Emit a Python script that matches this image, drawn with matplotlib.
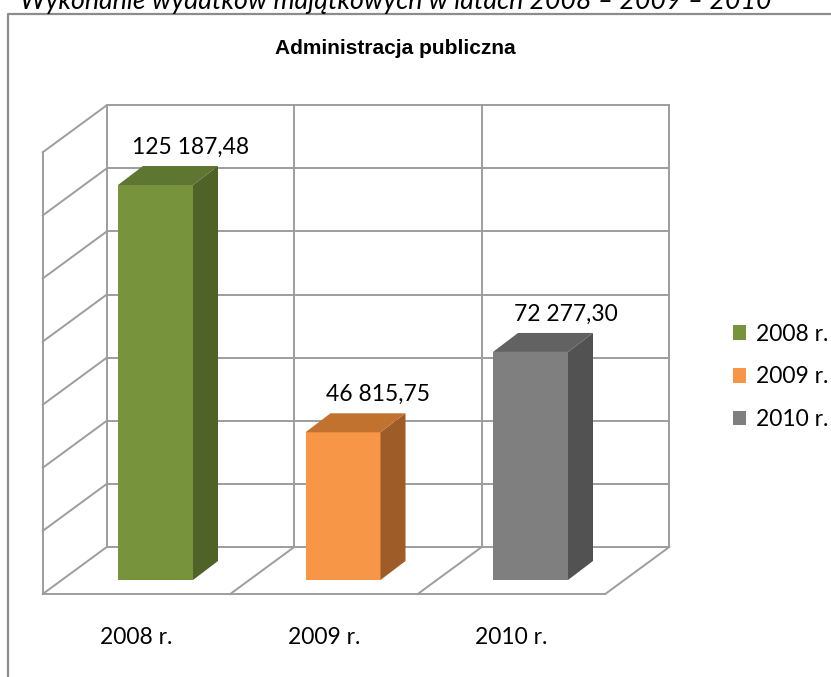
import numpy as np
import matplotlib.pyplot as plt
from matplotlib.patches import Polygon, Patch
from matplotlib.lines import Line2D

# dane
categories = ['2008 r.', '2009 r.', '2010 r.']
values = [125187.48, 46815.75, 72277.30]
value_labels = ['125 187,48', '46 815,75', '72 277,30']
grid_levels = [0, 20000, 40000, 60000, 80000, 100000, 120000, 140000]
chart_title = 'Administracja publiczna'
page_title = 'Wykonanie wydatków majątkowych w latach 2008 – 2009 – 2010'

front_colors = ['#77933C', '#F79646', '#7F7F7F']
side_colors = ['#4F6228', '#9E5C29', '#525252']
top_colors = ['#5F7632', '#C2722F', '#626262']

W, H = 831, 677
fig = plt.figure(figsize=(W / 100, H / 100), dpi=100)
ax = fig.add_axes([0, 0, 1, 1])
ax.axis('off')

# skala: piksele na kategorie i na jednostke wartosci
kx = 187.5
ky = 395 / 125187.48
x0_px, y0_px = 155.5, 580
ax.set_xlim(-x0_px / kx, (W - x0_px) / kx)
ax.set_ylim(-(H - y0_px) / ky, y0_px / ky)


def off(px, py):
    return px / kx, py / ky


back = off(45, 33)
front = off(-19, -14)
depth = off(25, 19)

grid_c = '#9d9d9d'
glw = 1.4
x = np.arange(len(values))
left, right = -0.5, len(values) - 0.5
top = grid_levels[-1]

# tylna sciana
for g in grid_levels:
    ax.plot([left + back[0], right + back[0]], [g + back[1]] * 2, color=grid_c, lw=glw, zorder=1)
for b in np.arange(left, right + 1):
    ax.plot([b + back[0]] * 2, [back[1], top + back[1]], color=grid_c, lw=glw, zorder=1)

# lewa sciana
for g in grid_levels:
    ax.plot([left + front[0], left + back[0]], [g + front[1], g + back[1]], color=grid_c, lw=glw, zorder=1)
ax.plot([left + front[0]] * 2, [front[1], top + front[1]], color=grid_c, lw=glw, zorder=1)

# podloga
ax.plot([left + front[0], right + front[0]], [front[1]] * 2, color=grid_c, lw=glw, zorder=1)
for b in np.arange(left + 1, right + 1):
    ax.plot([b + front[0], b + back[0]], [front[1], back[1]], color=grid_c, lw=glw, zorder=1)

# slupki
bw = 75 / kx
ax.bar(x, values, width=bw, color=front_colors, zorder=3)
for i, v in enumerate(values):
    xr = x[i] + bw / 2
    xl = x[i] - bw / 2
    side = [(xr, 0), (xr + depth[0], depth[1]), (xr + depth[0], v + depth[1]), (xr, v)]
    topf = [(xl, v), (xr, v), (xr + depth[0], v + depth[1]), (xl + depth[0], v + depth[1])]
    ax.add_patch(Polygon(side, closed=True, facecolor=side_colors[i], edgecolor='none', zorder=3))
    ax.add_patch(Polygon(topf, closed=True, facecolor=top_colors[i], edgecolor='none', zorder=3))
    ax.text(x[i] + depth[0] + off(10, 0)[0], v + depth[1] + off(0, 8)[1], value_labels[i],
            ha='center', va='bottom', fontsize=16.5, family='Lato', zorder=4)

# etykiety osi
for i, c in enumerate(categories):
    ax.text(x[i] + front[0], -(637 - y0_px) / ky, c, ha='center', va='center',
            fontsize=16.5, family='Lato')

# tytul wykresu
fig.text(395 / W, 1 - 49 / H, chart_title, ha='center', va='center', fontsize=15,
         fontweight='bold', family=['Liberation Sans Narrow', 'Liberation Sans'])

# tytul strony (przyciety u gory, jak w oryginale)
fig.text(20 / W, 1 - 9.5 / H, page_title, ha='left', va='baseline', fontsize=19.3,
         style='italic', family='Lato')

# legenda
handles = [Patch(facecolor=c, edgecolor='none') for c in front_colors]
ax.legend(handles, categories, loc='center left', bbox_to_anchor=(712 / W, 1 - 377 / H),
          frameon=False, prop={'family': 'Lato', 'size': 16.5}, handlelength=0.6,
          handleheight=0.6, handletextpad=0.4, labelspacing=0.95)

# ramka
fig.add_artist(Line2D([8 / W, 8 / W, 1], [0, 1 - 14 / H, 1 - 14 / H], color='#8c8c8c', lw=1.6))

fig.savefig('out.png', dpi=100)
